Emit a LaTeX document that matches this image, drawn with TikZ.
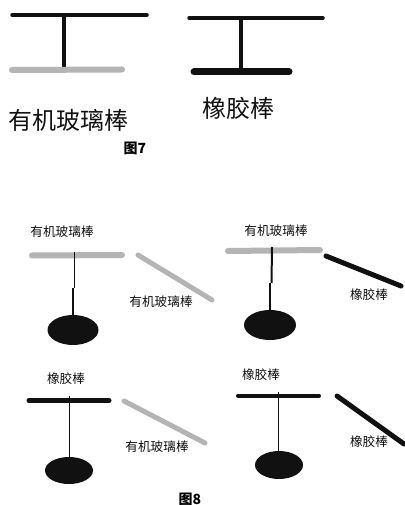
\documentclass[tikz,border=0pt]{standalone}
\usepackage{fontspec}
\setmainfont{Noto Sans CJK SC}
\definecolor{rodgrey}{HTML}{B4B4B4}
\definecolor{ink}{HTML}{111111}
\tikzset{
  x=0.75pt,y=-0.75pt,
  rod/.style={line cap=round,line width=#1*0.75pt},
  grod/.style={rod=#1,draw=rodgrey},
  brod/.style={rod=#1,draw=ink},
  hang/.style={draw=ink,line width=#1*0.75pt},
  ball/.style={fill=ink,draw=none},
  bigtext/.style={inner sep=0pt,text=ink,font=\fontsize{18pt}{18pt}\selectfont},
  smalltext/.style={inner sep=0pt,text=ink,font=\fontsize{9.5pt}{9.5pt}\selectfont},
  figcaption/.style={inner sep=0pt,text=black,font=\fontsize{10.5pt}{10.5pt}\bfseries\selectfont}
}
\begin{document}
\begin{tikzpicture}
\useasboundingbox (0,0) rectangle (404,505);
% Figure 7
\draw[brod=3.5] (12,15) -- (147,15);
\draw[hang=4] (64,15) -- (64,68);
\draw[grod=6] (12,70) -- (122,69.5);
\draw[brod=3.5] (189,18) -- (323,18);
\draw[hang=4] (241,18) -- (241,70);
\draw[brod=7] (194,72) -- (289,72);
\node[bigtext] (t1) at (68,120) {有机玻璃棒};
\node[bigtext] (t2) at (238,108) {橡胶棒};
\node[figcaption] (c7) at (135,148) {图7};
% Figure 8 top left
\node[smalltext] (t3) at (62,232) {有机玻璃棒};
\draw[grod=6] (32,255.5) -- (122,255);
\draw[hang=1] (74,252) -- (74,288);
\draw[hang=2] (73,288) -- (73,316);
\fill[ball] (73,330) ellipse [x radius=25.5,y radius=15];
\draw[grod=5] (138,255) -- (212,300);
\node[smalltext] (t4) at (161,302) {有机玻璃棒};
% top right
\node[smalltext] (t5) at (276,231) {有机玻璃棒};
\draw[grod=6] (228,251) -- (320,250);
\draw[hang=2] (272,247) -- (271.5,283);
\draw[hang=2] (270,283) -- (270,311);
\fill[ball] (270,325) ellipse [x radius=26,y radius=15];
\draw[brod=5] (326,256) -- (401,286);
\node[smalltext] (t6) at (369,295) {橡胶棒};
% bottom left
\node[smalltext] (t7) at (66,379) {橡胶棒};
\draw[brod=5] (29,400.5) -- (109,400.5);
\draw[hang=1] (69,396) -- (69,458);
\fill[ball] (69,470.5) ellipse [x radius=24,y radius=13.5];
\draw[grod=5] (124,401) -- (205,443);
\node[smalltext] (t8) at (157,447) {有机玻璃棒};
% bottom right
\node[smalltext] (t9) at (261,375) {橡胶棒};
\draw[brod=4] (238,395.5) -- (319,395.5);
\draw[hang=1] (278,392) -- (278,452);
\fill[ball] (279,465) ellipse [x radius=24,y radius=14];
\draw[brod=5] (337,396) -- (404,444);
\node[smalltext] (t10) at (369,442) {橡胶棒};
\node[figcaption] (c8) at (190,499) {图8};
\end{tikzpicture}
\end{document}
